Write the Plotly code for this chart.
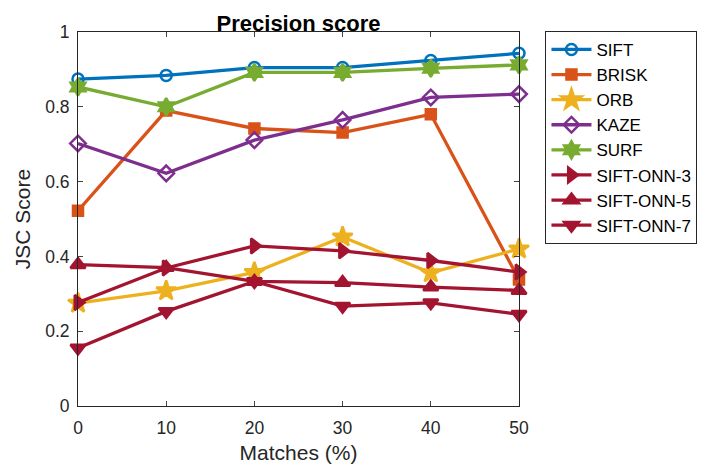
import plotly.graph_objects as go

matches = [0, 10, 20, 30, 40, 50]
sift = [0.874, 0.884, 0.905, 0.905, 0.924, 0.943]
brisk = [0.522, 0.79, 0.742, 0.731, 0.78, 0.338]
orb = [0.275, 0.308, 0.357, 0.452, 0.356, 0.42]
kaze = [0.702, 0.622, 0.711, 0.765, 0.825, 0.834]
surf = [0.853, 0.80, 0.892, 0.892, 0.903, 0.912]
onn3 = [0.277, 0.369, 0.428, 0.415, 0.389, 0.358]
onn5 = [0.378, 0.37, 0.333, 0.33, 0.318, 0.309]
onn7 = [0.155, 0.253, 0.333, 0.267, 0.276, 0.245]

names = ["SIFT", "BRISK", "ORB", "KAZE", "SURF", "SIFT-ONN-3", "SIFT-ONN-5", "SIFT-ONN-7"]
series = [sift, brisk, orb, kaze, surf, onn3, onn5, onn7]
colors = ["#0072BD", "#D95319", "#EDB120", "#7E2F8E", "#77AC30", "#A2142F", "#A2142F", "#A2142F"]
symbols = ["circle-open", "square", "star", "diamond-open", "hexagram", "triangle-right", "triangle-up", "triangle-down"]
sizes = [11, 10, 15, 12, 13, 13, 13, 13]

fig = go.Figure()
for n, y, c, s, sz in zip(names, series, colors, symbols, sizes):
    fig.add_trace(go.Scatter(
        x=matches, y=y, name=n, mode="lines+markers",
        line=dict(color=c, width=3.3),
        marker=dict(symbol=s, size=sz, color=c, line=dict(color=c, width=2.5)),
        cliponaxis=False,
    ))

font = "Liberation Sans, Arial, sans-serif"
fig.update_layout(
    width=720, height=470,
    margin=dict(l=70, r=209, t=24, b=72, autoexpand=False),
    paper_bgcolor="white", plot_bgcolor="white",
    font=dict(family=font, size=17, color="#262626"),
    title=dict(text="<b>Precision score</b>", x=0.5, xref="paper", xanchor="center",
               y=1, yref="paper", yanchor="bottom", pad=dict(b=1),
               automargin=False,
               font=dict(size=22, color="black")),
    showlegend=True,
    legend=dict(x=1.06, xanchor="left", y=1.003, yanchor="top",
                bordercolor="#262626", borderwidth=1, bgcolor="white",
                font=dict(size=17, color="black"), tracegroupgap=0,
                itemwidth=40),
    xaxis=dict(range=[0, 50], tickvals=matches, ticks="inside", ticklen=5,
               showline=True, linecolor="#262626", linewidth=1, mirror="ticks",
               showgrid=False, zeroline=False, automargin=False,
               ticklabelstandoff=6,
               title=dict(text="Matches (%)", standoff=8, font=dict(size=21)),
               tickfont=dict(size=17.5)),
    yaxis=dict(range=[0, 1], tickvals=[0, 0.2, 0.4, 0.6, 0.8, 1],
               ticktext=["0", "0.2", "0.4", "0.6", "0.8", "1"],
               ticks="inside", ticklen=5,
               showline=True, linecolor="#262626", linewidth=1, mirror="ticks",
               showgrid=False, zeroline=False, automargin=False,
               ticklabelstandoff=4,
               title=dict(text="JSC Score", standoff=8, font=dict(size=21)),
               tickfont=dict(size=17.5)),
)
fig.write_html("out.html")
